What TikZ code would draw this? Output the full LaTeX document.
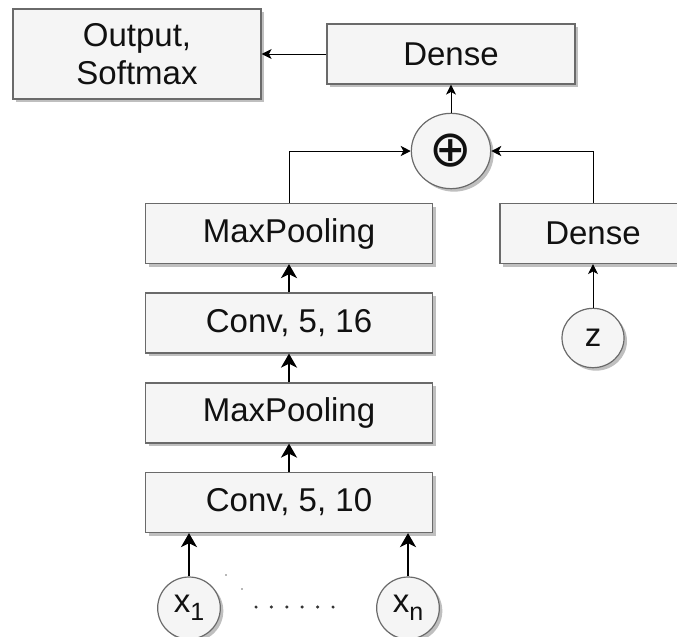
\documentclass[tikz,border=0pt]{standalone}
\usepackage{fontspec}
\setmainfont{Liberation Sans}
\newfontfamily\symfont{DejaVu Sans}
\usetikzlibrary{arrows.meta,shapes.geometric,shadows}

\definecolor{boxfill}{HTML}{F5F5F5}
\definecolor{boxline}{HTML}{6A6A6A}
\definecolor{txt}{HTML}{111111}

% subscript index set a little lower than the baseline
\newcommand\lowidx[1]{\raisebox{-6pt}{\fontsize{18.75}{20}\selectfont #1}}

\tikzset{
  every node/.style={font=\fontsize{24.75}{28}\selectfont, text=txt},
  boxshadow/.style={drop shadow={shadow xshift=2.25pt, shadow yshift=-2.25pt, opacity=0.25, fill=black}},
  layer/.style={rectangle, draw=boxline, fill=boxfill, line width=0.9pt,
                inner sep=0pt, align=center, boxshadow},
  widebox/.style={layer, minimum width=215.25pt, minimum height=45pt},
  densebox/.style={layer, minimum width=186pt, minimum height=45pt},
  var/.style={ellipse, draw=boxline, fill=boxfill, line width=0.9pt,
              inner sep=0pt, boxshadow},
  thinarrow/.style={draw=black, line width=0.75pt,
                    -{Stealth[length=7.5pt, width=7.5pt, inset=2pt]}},
  thickarrow/.style={draw=black, line width=1.5pt,
                     -{Stealth[length=10.5pt, width=12pt, inset=3pt]}},
}

\begin{document}
\begin{tikzpicture}[x=0.75pt, y=-0.75pt]
  \useasboundingbox (0,0) rectangle (677,636);
  \clip (0,0) rectangle (677,636);

  % top row
  \node[layer, minimum width=186pt, minimum height=67.5pt] (out) at (137,54) {Output,\\Softmax};
  \node[densebox] (dtop) at (451,54) {Dense};
  \node[var, minimum width=59.5pt, minimum height=56.5pt] (sum) at (451,151)
       {\symfont\fontsize{38}{40}\selectfont ⊕};

  % convolutional branch
  \node[widebox] (mp2) at (289,233.5) {MaxPooling};
  \node[widebox] (c16) at (289,323) {Conv, 5, 16};
  \node[widebox] (mp1) at (289,413) {MaxPooling};
  \node[widebox] (c10) at (289,502.5) {Conv, 5, 10};

  % dense branch (runs past the right edge)
  \node[layer, minimum width=139.5pt, minimum height=45pt] (dz) at (593,233.5) {Dense};
  \node[var, minimum width=46.5pt, minimum height=44.5pt] (z) at (593,338) {z};

  % inputs
  \node[var, minimum width=47pt, minimum height=46.5pt] (x1) at (189,608) {x\lowidx{1}};
  \node[var, minimum width=47pt, minimum height=46.5pt] (xn) at (408,608) {x\lowidx{n}};

  % connectors
  \draw[thinarrow] (dtop.west) -- (dtop.west -| out.east);
  \draw[thinarrow] (sum.north) -- (dtop.south);
  \draw[thinarrow] (mp2.north) |- (sum.west);
  \draw[thinarrow] (dz.north) |- (sum.east);
  \draw[thinarrow] (z.north) -- (dz.south);

  \draw[thickarrow] (c16.north) -- (mp2.south);
  \draw[thickarrow] (mp1.north) -- (c16.south);
  \draw[thickarrow] (c10.north) -- (mp1.south);
  \draw[thickarrow] (x1.north) -- (x1.north |- c10.south);
  \draw[thickarrow] (xn.north) -- (xn.north |- c10.south);

  % ellipsis between the inputs
  \foreach \i in {0,...,5}
    \fill[txt!85] ({256+15.4*\i},607) circle (1.3pt);
  \fill[txt!60] (226,575) circle (0.6pt);
  \fill[txt!60] (242,589) circle (0.6pt);
\end{tikzpicture}
\end{document}
